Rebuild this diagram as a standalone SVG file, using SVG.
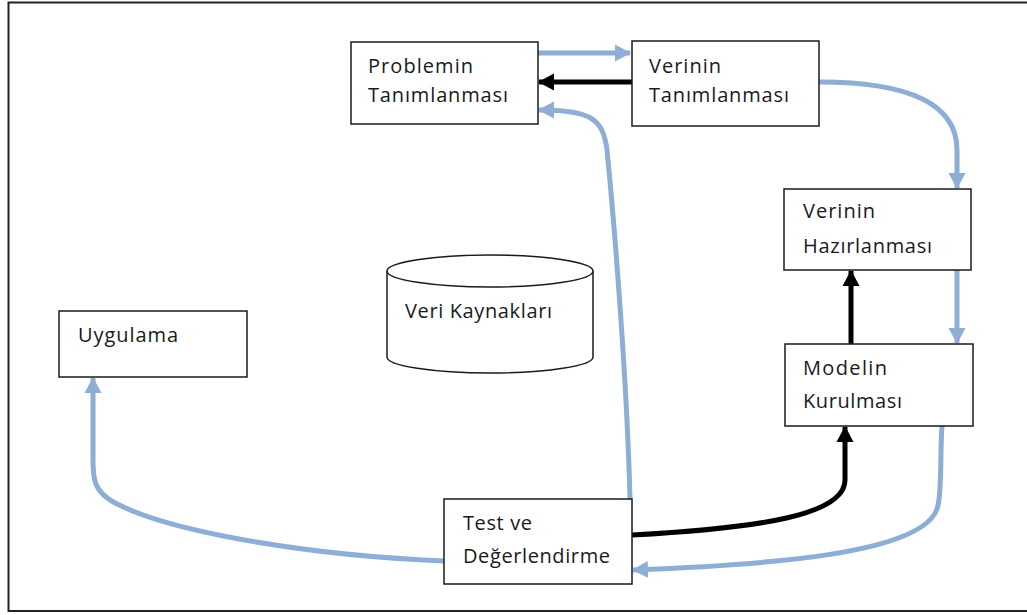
<svg xmlns="http://www.w3.org/2000/svg" width="1027" height="615" viewBox="0 0 1027 615">
<defs>
<style>
.box{fill:#fff;stroke:#1a1a1a;stroke-width:1.5}
.t{font-family:"Open Sans","Liberation Sans",sans-serif;font-size:20px;fill:#1a1a1a}
.blue{fill:none;stroke:#8eaed6;stroke-width:5}
.black{fill:none;stroke:#000;stroke-width:5}
</style>
<marker id="ab" markerUnits="userSpaceOnUse" markerWidth="20" markerHeight="20" refX="15" refY="10" orient="auto"><path d="M0,1.5 L16,10 L0,18.5 Z" fill="#8eaed6"/></marker>
<marker id="ak" markerUnits="userSpaceOnUse" markerWidth="20" markerHeight="20" refX="15" refY="10" orient="auto"><path d="M0,1.5 L16,10 L0,18.5 Z" fill="#000"/></marker>
</defs>
<rect width="1027" height="615" fill="#fff"/>
<path d="M1027,2.5 H8.5 V611 H1027" fill="none" stroke="#222" stroke-width="2"/>

<g id="connectors">
<path class="blue" d="M538,53 H630" marker-end="url(#ab)"/>
<path class="black" d="M632,82 H539" marker-end="url(#ak)"/>
<path class="blue" d="M630,499 C627,380 614,220 607,150 C603,118 590,110 539,110" marker-end="url(#ab)"/>
<path class="blue" d="M819,82 C900,82 957,100 957,150 V188" marker-end="url(#ab)"/>
<path class="blue" d="M957,270 V343" marker-end="url(#ab)"/>
<path class="black" d="M851,344 V271" marker-end="url(#ak)"/>
<path class="black" d="M632,535 C760,528 845,515 845,480 V427" marker-end="url(#ak)"/>
<path class="blue" d="M942,426 C940,450 942,490 938,505 C930,555 760,565 633,570" marker-end="url(#ab)"/>
<path class="blue" d="M444,561 C300,555 160,530 110,500 C95,490 93,480 93,460 V378" marker-end="url(#ab)"/>
</g>

<g id="problemin">
<rect class="box" x="351" y="42" width="187" height="82"/>
<text class="t" x="368" y="73" textLength="105" lengthAdjust="spacing">Problemin</text>
<text class="t" x="368" y="102" textLength="140" lengthAdjust="spacing">Tanımlanması</text>
</g>
<g id="verinin-tanimlanmasi">
<rect class="box" x="632" y="41" width="187" height="85"/>
<text class="t" x="649" y="73" textLength="72" lengthAdjust="spacing">Verinin</text>
<text class="t" x="649" y="102" textLength="140" lengthAdjust="spacing">Tanımlanması</text>
</g>
<g id="verinin-hazirlanmasi">
<rect class="box" x="784" y="189" width="187" height="81"/>
<text class="t" x="803" y="218" textLength="72" lengthAdjust="spacing">Verinin</text>
<text class="t" x="803" y="253" textLength="129" lengthAdjust="spacing">Hazırlanması</text>
</g>
<g id="modelin-kurulmasi">
<rect class="box" x="785" y="344" width="188" height="82"/>
<text class="t" x="803" y="375" textLength="84" lengthAdjust="spacing">Modelin</text>
<text class="t" x="803" y="408" textLength="99" lengthAdjust="spacing">Kurulması</text>
</g>
<g id="test">
<rect class="box" x="444" y="499" width="188" height="85"/>
<text class="t" x="463" y="530" textLength="69" lengthAdjust="spacing">Test ve</text>
<text class="t" x="463" y="563" textLength="147" lengthAdjust="spacing">Değerlendirme</text>
</g>
<g id="uygulama">
<rect class="box" x="59" y="311" width="188" height="66"/>
<text class="t" x="78" y="342" textLength="100" lengthAdjust="spacing">Uygulama</text>
</g>
<g id="veri-kaynaklari">
<path class="box" d="M387,271 V357 A103,16 0 0 0 593,357 V271"/>
<ellipse class="box" cx="490" cy="271" rx="103" ry="16"/>
<text class="t" x="405" y="318" textLength="147" lengthAdjust="spacing">Veri Kaynakları</text>
</g>
</svg>
